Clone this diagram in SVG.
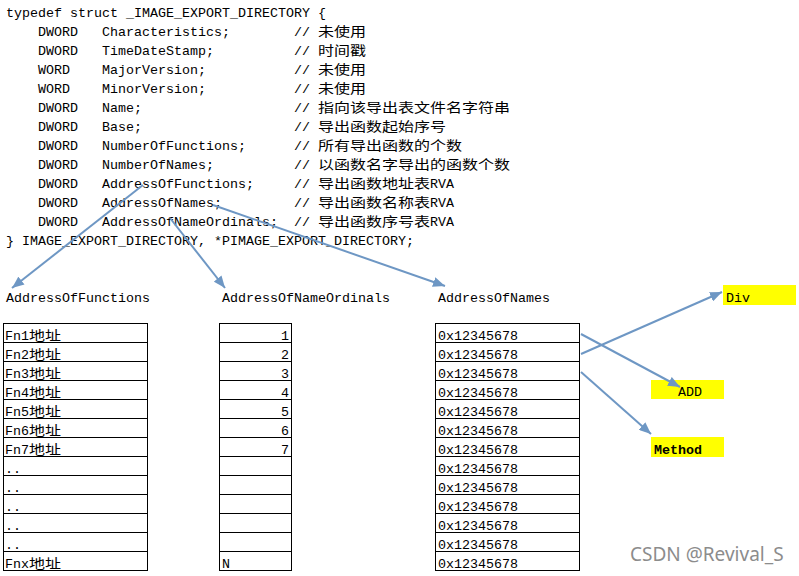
<svg xmlns="http://www.w3.org/2000/svg" width="799" height="576" viewBox="0 0 799 576">
<style>
text{fill:#000;white-space:pre}
.m{font-family:"Liberation Mono","DejaVu Sans Mono",monospace;font-size:13.33px}
.c{font-family:"Noto Sans CJK SC","Noto Sans",sans-serif;font-size:13px}
.cell{fill:#fff;stroke:#000;stroke-width:1}
.row{stroke:#000;stroke-width:1}
.hl{fill:#ffff00}
.conn line{stroke:#6e97c4;stroke-width:2;fill:none}
.wm{font-family:"Noto Sans","Liberation Sans",sans-serif;font-size:19px;fill:#8c8c8c}
</style>
<defs>
<marker id="ah" markerUnits="userSpaceOnUse" markerWidth="13" markerHeight="10" refX="12" refY="5" orient="auto">
<path d="M0,0 L12,5 L0,10 z" fill="#6e97c4"/>
</marker>
</defs>
<rect width="799" height="576" fill="#fff"/>

<g id="struct">
<text class="m" x="6" y="17">typedef struct _IMAGE_EXPORT_DIRECTORY {</text>
<text class="m" x="38" y="36">DWORD</text><text class="m" x="102" y="36">Characteristics;</text><text class="m" x="294" y="36">//</text><text class="c" x="318" y="36" textLength="48" lengthAdjust="spacingAndGlyphs">未使用</text>
<text class="m" x="38" y="55">DWORD</text><text class="m" x="102" y="55">TimeDateStamp;</text><text class="m" x="294" y="55">//</text><text class="c" x="318" y="55" textLength="48" lengthAdjust="spacingAndGlyphs">时间戳</text>
<text class="m" x="38" y="74">WORD</text><text class="m" x="102" y="74">MajorVersion;</text><text class="m" x="294" y="74">//</text><text class="c" x="318" y="74" textLength="48" lengthAdjust="spacingAndGlyphs">未使用</text>
<text class="m" x="38" y="93">WORD</text><text class="m" x="102" y="93">MinorVersion;</text><text class="m" x="294" y="93">//</text><text class="c" x="318" y="93" textLength="48" lengthAdjust="spacingAndGlyphs">未使用</text>
<text class="m" x="38" y="112">DWORD</text><text class="m" x="102" y="112">Name;</text><text class="m" x="294" y="112">//</text><text class="c" x="318" y="112" textLength="192" lengthAdjust="spacingAndGlyphs">指向该导出表文件名字符串</text>
<text class="m" x="38" y="131">DWORD</text><text class="m" x="102" y="131">Base;</text><text class="m" x="294" y="131">//</text><text class="c" x="318" y="131" textLength="128" lengthAdjust="spacingAndGlyphs">导出函数起始序号</text>
<text class="m" x="38" y="150">DWORD</text><text class="m" x="102" y="150">NumberOfFunctions;</text><text class="m" x="294" y="150">//</text><text class="c" x="318" y="150" textLength="144" lengthAdjust="spacingAndGlyphs">所有导出函数的个数</text>
<text class="m" x="38" y="169">DWORD</text><text class="m" x="102" y="169">NumberOfNames;</text><text class="m" x="294" y="169">//</text><text class="c" x="318" y="169" textLength="192" lengthAdjust="spacingAndGlyphs">以函数名字导出的函数个数</text>
<text class="m" x="38" y="188">DWORD</text><text class="m" x="102" y="188">AddressOfFunctions;</text><text class="m" x="294" y="188">//</text><text class="c" x="318" y="188" textLength="112" lengthAdjust="spacingAndGlyphs">导出函数地址表</text><text class="m" x="430" y="188">RVA</text>
<text class="m" x="38" y="207">DWORD</text><text class="m" x="102" y="207">AddressOfNames;</text><text class="m" x="294" y="207">//</text><text class="c" x="318" y="207" textLength="112" lengthAdjust="spacingAndGlyphs">导出函数名称表</text><text class="m" x="430" y="207">RVA</text>
<text class="m" x="38" y="226">DWORD</text><text class="m" x="102" y="226">AddressOfNameOrdinals;</text><text class="m" x="294" y="226">//</text><text class="c" x="318" y="226" textLength="112" lengthAdjust="spacingAndGlyphs">导出函数序号表</text><text class="m" x="430" y="226">RVA</text>
<text class="m" x="6" y="245">} IMAGE_EXPORT_DIRECTORY, *PIMAGE_EXPORT_DIRECTORY;</text>
</g>

<g id="label-functions"><text class="m" x="6" y="302">AddressOfFunctions</text></g>
<g id="label-ordinals"><text class="m" x="222" y="302">AddressOfNameOrdinals</text></g>
<g id="label-names"><text class="m" x="438" y="302">AddressOfNames</text></g>

<g id="table-functions">
<rect class="cell" x="3.5" y="323.5" width="144" height="247"/>
<path class="row" d="M3.5 342.5H147.5M3.5 361.5H147.5M3.5 380.5H147.5M3.5 399.5H147.5M3.5 418.5H147.5M3.5 437.5H147.5M3.5 456.5H147.5M3.5 475.5H147.5M3.5 494.5H147.5M3.5 513.5H147.5M3.5 532.5H147.5M3.5 551.5H147.5"/>
<text class="m" x="5" y="340">Fn1</text><text class="c" x="29" y="340" textLength="32" lengthAdjust="spacingAndGlyphs">地址</text>
<text class="m" x="5" y="359">Fn2</text><text class="c" x="29" y="359" textLength="32" lengthAdjust="spacingAndGlyphs">地址</text>
<text class="m" x="5" y="378">Fn3</text><text class="c" x="29" y="378" textLength="32" lengthAdjust="spacingAndGlyphs">地址</text>
<text class="m" x="5" y="397">Fn4</text><text class="c" x="29" y="397" textLength="32" lengthAdjust="spacingAndGlyphs">地址</text>
<text class="m" x="5" y="416">Fn5</text><text class="c" x="29" y="416" textLength="32" lengthAdjust="spacingAndGlyphs">地址</text>
<text class="m" x="5" y="435">Fn6</text><text class="c" x="29" y="435" textLength="32" lengthAdjust="spacingAndGlyphs">地址</text>
<text class="m" x="5" y="454">Fn7</text><text class="c" x="29" y="454" textLength="32" lengthAdjust="spacingAndGlyphs">地址</text>
<text class="m" x="5" y="473">..</text>
<text class="m" x="5" y="492">..</text>
<text class="m" x="5" y="511">..</text>
<text class="m" x="5" y="530">..</text>
<text class="m" x="5" y="549">..</text>
<text class="m" x="5" y="568">Fnx</text><text class="c" x="29" y="568" textLength="32" lengthAdjust="spacingAndGlyphs">地址</text>
</g>

<g id="table-ordinals">
<rect class="cell" x="219.5" y="323.5" width="72" height="247"/>
<path class="row" d="M219.5 342.5H291.5M219.5 361.5H291.5M219.5 380.5H291.5M219.5 399.5H291.5M219.5 418.5H291.5M219.5 437.5H291.5M219.5 456.5H291.5M219.5 475.5H291.5M219.5 494.5H291.5M219.5 513.5H291.5M219.5 532.5H291.5M219.5 551.5H291.5"/>
<g text-anchor="end">
<text class="m" x="289" y="340">1</text>
<text class="m" x="289" y="359">2</text>
<text class="m" x="289" y="378">3</text>
<text class="m" x="289" y="397">4</text>
<text class="m" x="289" y="416">5</text>
<text class="m" x="289" y="435">6</text>
<text class="m" x="289" y="454">7</text>
</g>
<text class="m" x="222" y="568">N</text>
</g>

<g id="table-names">
<rect class="cell" x="435.5" y="323.5" width="144" height="247"/>
<path class="row" d="M435.5 342.5H579.5M435.5 361.5H579.5M435.5 380.5H579.5M435.5 399.5H579.5M435.5 418.5H579.5M435.5 437.5H579.5M435.5 456.5H579.5M435.5 475.5H579.5M435.5 494.5H579.5M435.5 513.5H579.5M435.5 532.5H579.5M435.5 551.5H579.5"/>
<text class="m" x="438" y="340">0x12345678</text>
<text class="m" x="438" y="359">0x12345678</text>
<text class="m" x="438" y="378">0x12345678</text>
<text class="m" x="438" y="397">0x12345678</text>
<text class="m" x="438" y="416">0x12345678</text>
<text class="m" x="438" y="435">0x12345678</text>
<text class="m" x="438" y="454">0x12345678</text>
<text class="m" x="438" y="473">0x12345678</text>
<text class="m" x="438" y="492">0x12345678</text>
<text class="m" x="438" y="511">0x12345678</text>
<text class="m" x="438" y="530">0x12345678</text>
<text class="m" x="438" y="549">0x12345678</text>
<text class="m" x="438" y="568">0x12345678</text>
</g>

<g id="name-div"><rect class="hl" x="723" y="285" width="73" height="20"/><text class="m" x="726" y="302">Div</text></g>
<g id="name-add"><rect class="hl" x="651" y="380" width="73" height="19"/><text class="m" x="678" y="396">ADD</text></g>
<g id="name-method"><rect class="hl" x="651" y="437" width="73" height="20"/><text class="m" x="654" y="454" font-weight="bold">Method</text></g>

<g id="connectors" class="conn">
<line x1="143" y1="185" x2="12" y2="288" marker-end="url(#ah)"/>
<line x1="170" y1="218" x2="225" y2="288" marker-end="url(#ah)"/>
<line x1="213" y1="205" x2="445" y2="286" marker-end="url(#ah)"/>
<line x1="581" y1="354" x2="722" y2="292" marker-end="url(#ah)"/>
<line x1="581" y1="334" x2="680" y2="387" marker-end="url(#ah)"/>
<line x1="581" y1="372" x2="651" y2="434" marker-end="url(#ah)"/>
</g>

<g id="watermark"><text class="wm" x="630" y="561">CSDN @Revival_S</text></g>
</svg>
